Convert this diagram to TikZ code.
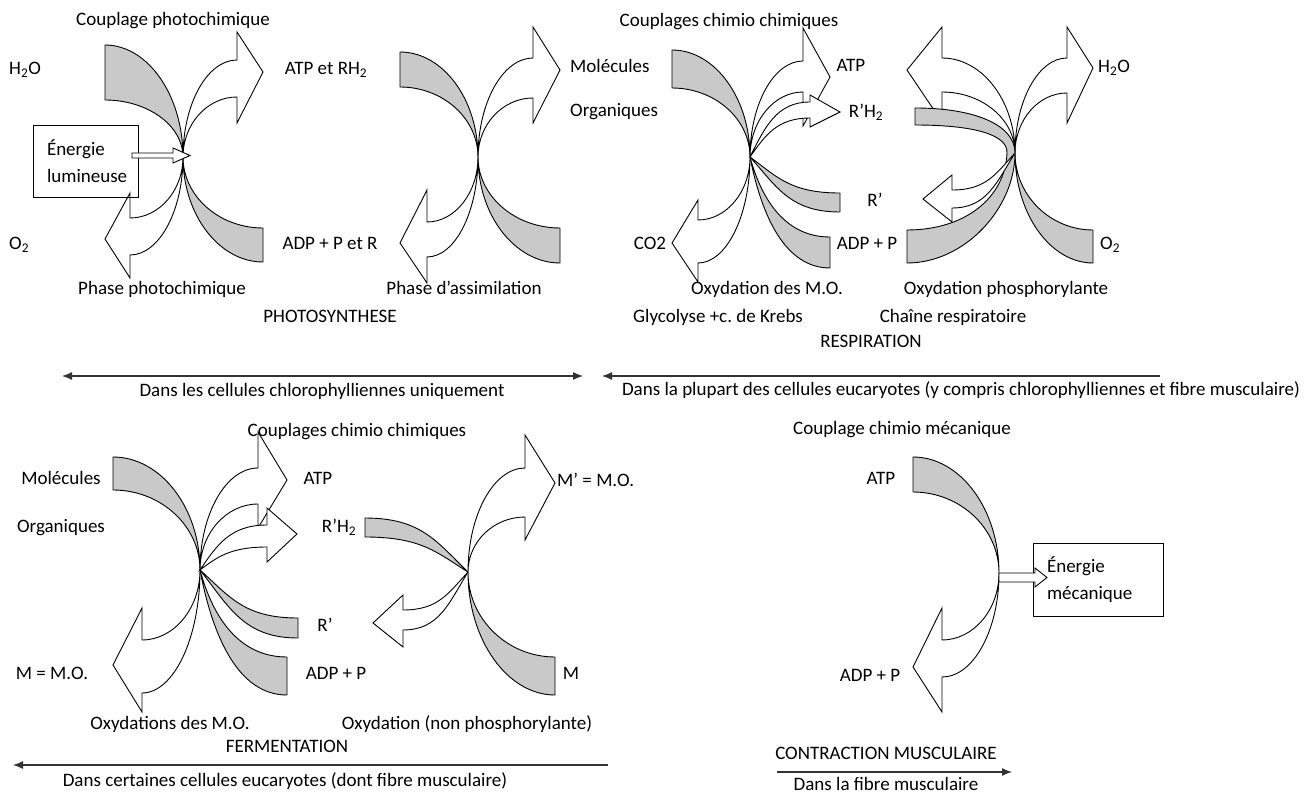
\documentclass[tikz,border=0pt]{standalone}
\usepackage{fontspec}
\setmainfont{Carlito}
\usetikzlibrary{arrows.meta}
% grey band from centre (0,0) to an end cap at x=#2, y from #3 (outer) to #4 (inner)
\newcommand\GBand[4][0]{%
  \filldraw[band] (0,0) .. controls ({#1*#2},{0.55*#3}) and ({0.45*#2},#3) .. (#2,#3)
    -- (#2,#4) .. controls ({0.45*#2},#4) and ({#1*#2},{0.55*#4}) .. (0,0) -- cycle;}
% white curved block arrow from centre: base x=#2, shaft #3 (outer) #4 (inner), head corners #5 #6, tip (#7,#8)
\newcommand\WArrow[8][0]{%
  \filldraw[warr] (0,0) .. controls ({#1*#2},{0.55*#3}) and ({0.45*#2},#3) .. (#2,#3)
    -- (#2,#5) -- (#7,#8) -- (#2,#6) -- (#2,#4)
    .. controls ({0.45*#2},#4) and ({#1*#2},{0.55*#4}) .. (0,0) -- cycle;}
\begin{document}
\begin{tikzpicture}[x=1pt,y=-1pt,
  band/.style={draw=black, fill=black!21, line width=0.9pt, line join=round},
  warr/.style={draw=black, fill=white, line width=0.9pt, line join=miter},
  lbl/.style={font=\fontsize{19}{25}\selectfont, inner sep=0pt, text height=13pt, text depth=4pt},
  boxnode/.style={draw=black, line width=0.9pt, align=left, font=\fontsize{19}{27}\selectfont},
  rule/.style={draw=black!80, line width=1.2pt},
  tip/.style={-{Latex[length=10pt,width=8pt]}},
]
\useasboundingbox (0,0) rectangle (1309,794);
\fill[white] (0,0) rectangle (1309,794);

% ===== 1: couplage photochimique =====
\begin{scope}[shift={(183,157)}]
  \GBand{-78}{-112}{-57}
  \GBand{80}{105}{71}
  \WArrow{54}{-97}{-60}{-125}{-34}{80}{-85}
  \WArrow{-53}{98}{61}{121}{36}{-78}{82}
\end{scope}
\node[boxnode, minimum width=105pt, minimum height=72pt, text width=77pt, inner xsep=14pt] (boxL) at (85.5,161) {Énergie\\lumineuse};
\filldraw[warr] (132,153) -- (173,153) -- (173,148) -- (190,155.5) -- (173,163) -- (173,158) -- (132,158) -- cycle;

% ===== 2: phase d'assimilation =====
\begin{scope}[shift={(478,157)}]
  \GBand{-78}{-105}{-70}
  \GBand{82}{106}{71}
  \WArrow{55}{-99}{-59}{-130}{-34}{82}{-87}
  \WArrow{-51}{100}{65}{126}{33}{-78}{86}
\end{scope}

% ===== 3: oxydation des M.O. =====
\begin{scope}[shift={(750,157)}]
  \GBand{-78}{-107}{-69}
  \GBand[0.15]{80}{111}{80}
  \GBand[0.3]{90}{55}{36}
  \WArrow{-52}{106}{63}{125}{43}{-78}{86}
  \WArrow{53}{-96}{-65}{-129}{-31}{80}{-80}
  \WArrow[0.25]{60}{-55}{-39}{-62}{-30}{90}{-45}
\end{scope}

% ===== 4: oxydation phosphorylante =====
\begin{scope}[shift={(1015,153)}]
  \WArrow{52}{-95}{-60}{-126}{-30}{78}{-85}
  \GBand{78}{110}{77}
  \WArrow{-73}{-95}{-61}{-126}{-31}{-108}{-83}
  \filldraw[band] (-100,-45) .. controls (-40,-45) and (0,-28) .. (0,0)
     .. controls (0,55) and (-50,110) .. (-108,110) -- (-108,77)
     .. controls (-50,77) and (-10,45) .. (-8,0)
     .. controls (-7,-18) and (-40,-28) .. (-100,-28) -- cycle;
  \WArrow[0.3]{-63}{55}{37}{69}{22}{-92}{46}
\end{scope}

% ===== 5: fermentation, oxydations des M.O. =====
\begin{scope}[shift={(200,570)}]
  \GBand{-87}{-113}{-80}
  \GBand[0.15]{87}{125}{87}
  \GBand[0.3]{98}{68}{48}
  \WArrow{-58}{123}{70}{142}{38}{-87}{95}
  \WArrow{58}{-102}{-66}{-138}{-42}{87}{-90}
  \WArrow[0.25]{67}{-45}{-23}{-62}{-8}{97}{-36}
\end{scope}

% ===== 6: oxydation non phosphorylante =====
\begin{scope}[shift={(468,572)}]
  \GBand[0.3]{-103}{-54}{-35}
  \GBand{87}{123}{85}
  \WArrow{57}{-104}{-55}{-137}{-32}{87}{-89}
  \WArrow[0.3]{-65}{58}{38}{75}{23}{-95}{51}
\end{scope}

% ===== 7: couplage chimio mecanique =====
\begin{scope}[shift={(999,573)}]
  \GBand{-86}{-116}{-81}
  \WArrow{-57}{104}{67}{139}{35}{-86}{94}
\end{scope}
\node[boxnode, minimum width=130pt, minimum height=73pt, text width=102pt, inner xsep=14pt] (boxR) at (1098,579.5) {Énergie\\mécanique};
\filldraw[warr] (999,573) -- (1035,573) -- (1035,568) -- (1047,577.5) -- (1035,587) -- (1035,582) -- (999,582) -- cycle;

% ===== labels row 1 =====
\node[lbl] (l1) at (173,21) {Couplage photochimique};
\node[lbl, anchor=west] (l2) at (9,70) {H\textsubscript{2}O};
\node[lbl] (l3) at (326,70) {ATP et RH\textsubscript{2}};
\node[lbl, anchor=west] (l4) at (9,245) {O\textsubscript{2}};
\node[lbl] (l5) at (330,245) {ADP + P et R};
\node[lbl] (l6) at (162,290) {Phase photochimique};
\node[lbl] (l7) at (464,290) {Phase d’assimilation};
\node[lbl] (l8) at (330,318) {PHOTOSYNTHESE};
\node[lbl, anchor=west] (l9) at (570,68) {Molécules};
\node[lbl, anchor=west] (l10) at (570,112) {Organiques};
\node[lbl] (l11) at (729,22) {Couplages chimio chimiques};
\node[lbl] (l12) at (851,67) {ATP};
\node[lbl] (l13) at (866,113) {R’H\textsubscript{2}};
\node[lbl] (l14) at (875,202) {R’};
\node[lbl] (l15) at (650,245) {CO2};
\node[lbl] (l16) at (867,245) {ADP + P};
\node[lbl, anchor=west] (l17) at (1098,68) {H\textsubscript{2}O};
\node[lbl, anchor=west] (l18) at (1100,245) {O\textsubscript{2}};
\node[lbl] (l19) at (767,290) {Oxydation des M.O.};
\node[lbl] (l20) at (1006,290) {Oxydation phosphorylante};
\node[lbl] (l21) at (718,318) {Glycolyse +c.\ de Krebs};
\node[lbl] (l22) at (953,318) {Chaîne respiratoire};
\node[lbl] (l23) at (871,343) {RESPIRATION};

% rules row 1
\coordinate (r1a) at (62,376);
\coordinate (r1b) at (583,376);
\draw[rule, {Latex[length=10pt,width=8pt]}-{Latex[length=10pt,width=8pt]}] (r1a) -- (r1b);
\node[lbl] (d1) at (322,392) {Dans les cellules chlorophylliennes uniquement};
\coordinate (r2a) at (1160,376);
\coordinate (r2b) at (602,376);
\draw[rule, tip] (r2a) -- (r2b);
\node[lbl] (d2) at (961,391) {Dans la plupart des cellules eucaryotes (y compris chlorophylliennes et fibre musculaire)};

% ===== labels row 2 =====
\node[lbl] (m1) at (357,432) {Couplages chimio chimiques};
\node[lbl] (m2) at (61,480) {Molécules};
\node[lbl] (m3) at (61,528) {Organiques};
\node[lbl] (m4) at (318,480) {ATP};
\node[lbl] (m5) at (339,528) {R’H\textsubscript{2}};
\node[lbl] (m6) at (325,627) {R’};
\node[lbl] (m7) at (52,675) {M = M.O.};
\node[lbl] (m8) at (336,675) {ADP + P};
\node[lbl, anchor=west] (m9) at (557,482) {M’ = M.O.};
\node[lbl] (m10) at (571,675) {M};
\node[lbl] (m11) at (170,725) {Oxydations des M.O.};
\node[lbl] (m12) at (467,725) {Oxydation (non phosphorylante)};
\node[lbl] (m13) at (287,748) {FERMENTATION};
\coordinate (r3a) at (608,765);
\coordinate (r3b) at (13,765);
\draw[rule, tip] (r3a) -- (r3b);
\node[lbl] (d3) at (285,782) {Dans certaines cellules eucaryotes (dont fibre musculaire)};

\node[lbl] (n1) at (902,430) {Couplage chimio mécanique};
\node[lbl] (n2) at (881,480) {ATP};
\node[lbl] (n3) at (870,677) {ADP + P};
\node[lbl] (n4) at (886,755) {CONTRACTION MUSCULAIRE};
\coordinate (r4a) at (777,772);
\coordinate (r4b) at (1012,772);
\draw[rule, tip] (r4a) -- (r4b);
\node[lbl] (d4) at (886,786) {Dans la fibre musculaire};
\end{tikzpicture}
\end{document}
